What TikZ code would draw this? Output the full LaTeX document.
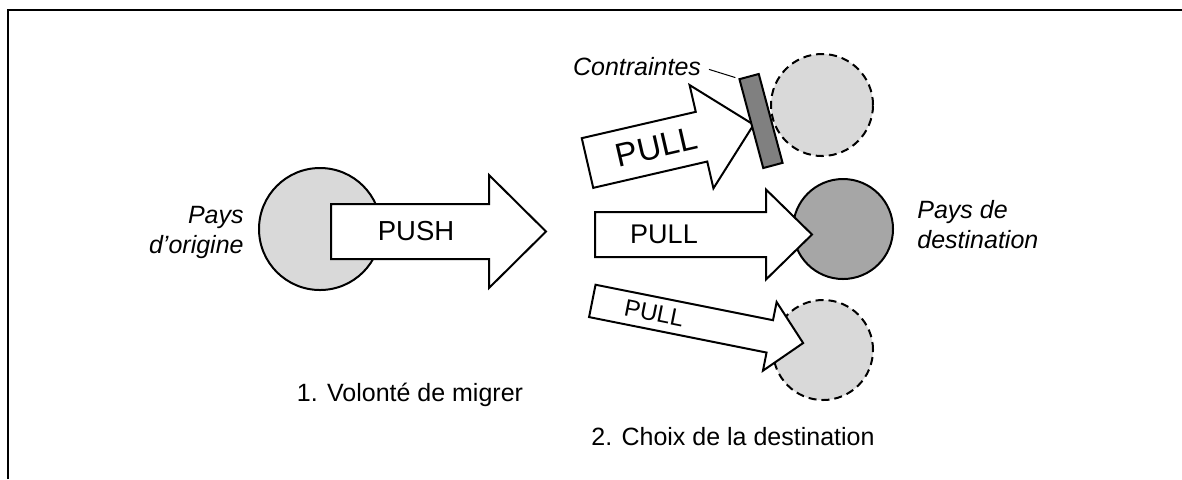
\documentclass[tikz,border=0pt]{standalone}
\usepackage{fontspec}
\setmainfont{Liberation Sans}
\usepackage{tikz}
\usetikzlibrary{calc}
\usetikzlibrary{positioning}

\definecolor{lightgrey}{RGB}{217,217,217}
\definecolor{midgrey}{RGB}{166,166,166}
\definecolor{bargrey}{RGB}{128,128,128}

% block arrow: shaft half width, shaft length, head half width, tip length
\newcommand{\blockarrow}[4]{%
	\draw[block arrow] (0,-#1) -- (#2,-#1) -- (#2,-#3) -- (#4,0) -- (#2,#3) -- (#2,#1) -- (0,#1) -- cycle;}

\begin{document}
\begin{tikzpicture}
			[
			x=0.5pt, y=-0.5pt,
			font=\fontsize{12.5}{15}\selectfont
			]
			
			% Styles
			\tikzstyle{country}=[circle,draw,line width=1pt,inner sep=0];
			\tikzstyle{maybe country}=[country,dashed,dash pattern=on 4pt off 2.5pt,fill=lightgrey];
			\tikzstyle{block arrow}=[draw,fill=white,line width=1pt,line join=miter];
			\tikzstyle{arrow text}=[inner sep=0,transform shape];
			\tikzstyle{label text}=[inner sep=0,font=\fontsize{12.5}{15}\selectfont\itshape];
			\tikzstyle{caption}=[inner sep=0,anchor=base];
			
			\useasboundingbox (0,0) rectangle (1182,479);
			% Frame
			\draw[line width=1pt] (8,479) -- (8,10) -- (1182,10);
			
			% Countries
			\node(origin)[country,fill=lightgrey,minimum size=61pt] at (320,229) {};
			\node(dest)[country,fill=midgrey,minimum size=50pt] at (843,229) {};
			\node(dest top)[maybe country,minimum size=51pt] at (822,105) {};
			\node(dest bottom)[maybe country,minimum size=50pt] at (823,350) {};
			
			% Push
			\begin{scope}[shift={(331,231.5)}]
				\blockarrow{27.5}{158}{56.5}{215}
				\node(push)[arrow text,font=\fontsize{13.75}{15}\selectfont] at (85,0) {PUSH};
			\end{scope}
			
			% Pull, blocked
			\begin{scope}[shift={(587.5,163)},rotate=13]
				\blockarrow{25.5}{117}{53}{170.5}
				\node(pull top)[arrow text,font=\fontsize{16.5}{18}\selectfont] at (71,0) {PULL};
			\end{scope}
			% Pull, chosen
			\begin{scope}[shift={(595,234.5)}]
				\blockarrow{22.5}{171}{45}{217}
				\node(pull mid)[arrow text,font=\fontsize{13.5}{15}\selectfont] at (69,0) {PULL};
			\end{scope}
			% Pull, weak
			\begin{scope}[shift={(592.3,300.9)},rotate=-11.3]
				\blockarrow{16.5}{181}{35}{215}
				\node(pull bottom)[arrow text,font=\fontsize{12}{14}\selectfont] at (63,0) {PULL};
			\end{scope}
			
			% Constraint
			\node(barrier)[draw,fill=bargrey,line width=1pt,rotate=15,minimum width=10pt,minimum height=46pt,inner sep=0] at (761,121) {};
			\node(constraint)[label text] at (637,67) {Contraintes};
			\draw[line width=0.5pt,shorten <=4pt,shorten >=1.5pt](constraint.east)--(barrier.north west);
			
			% Labels
			\node(origin label)[label text,align=right,anchor=north east] at (244,206) {Pays\\d’origine};
			\node(dest label)[label text,align=left,anchor=north west] at (917,200) {Pays de\\destination};
			\node(step one)[caption] at (410,401) {1. Volonté de migrer};
			\node(step two)[caption] at (733,445) {2. Choix de la destination};
\end{tikzpicture}
\end{document}
